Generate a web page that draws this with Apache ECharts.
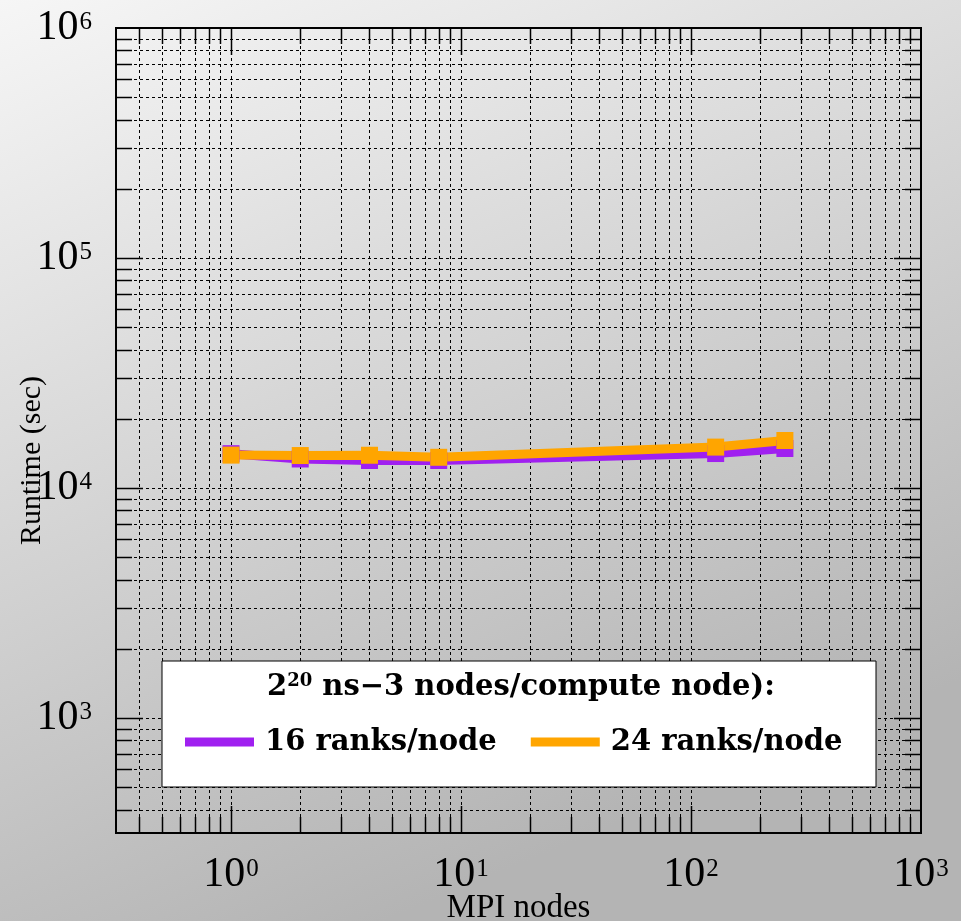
<!DOCTYPE html>
<html>
<head>
<meta charset="utf-8">
<script src="https://cdn.jsdelivr.net/npm/echarts@6/dist/echarts.min.js"></script>
<style>
html,body{margin:0;padding:0;}
#chart{width:961px;height:921px;}
</style>
</head>
<body>
<div id="chart"></div>
<script>
// ---- data ----
const nodes = [1, 2, 4, 8, 128, 256];
const ranks16 = [14100, 13370, 13170, 13170, 14120, 14850];
const ranks24 = [13900, 13840, 13880, 13600, 15060, 16090];
const seriesNames = ['16 ranks/node', '24 ranks/node'];
const legendTitle = ['2', '20', ' ns\u22123 nodes/compute node):'];

// axis range (log)
const X_MIN = Math.pow(10, -0.5), X_MAX = 1000;
const Y_MIN = Math.pow(10, 2.5), Y_MAX = 1000000;

// tick label values
const xLabelValues = [1, 10, 100, 1000];
const yLabelValues = [1000, 10000, 100000, 1000000];

// grid / tick values
const xGridValues = [0.4,0.5,0.6,0.7,0.8,0.9,
  1,2,3,4,5,6,7,8,9,
  10,20,30,40,50,60,70,80,90,
  100,200,300,400,500,600,700,800,900];
const yGridValues = [400,500,600,700,800,900,
  1000,2000,3000,4000,5000,6000,7000,8000,9000,
  10000,20000,30000,40000,50000,60000,70000,80000,90000,
  100000,200000,300000,400000,500000,600000,700000,800000,900000];

function isPow10(v) {
  const e = Math.log10(v);
  return Math.abs(e - Math.round(e)) < 1e-6;
}
function powLabel(v) {
  if (!isPow10(v)) return '';
  return '{b|10}{s|' + Math.round(Math.log10(v)) + '}';
}
const labelRich = {
  b: {fontFamily: 'Liberation Serif', fontSize: 42, color: '#000'},
  s: {fontFamily: 'Liberation Serif', fontSize: 25, color: '#000', padding: [0, 0, 11, 1]}
};

const MAJOR_LEN = 27, MINOR_LEN = 16;
const dotStyle = {stroke: '#000', lineWidth: 1, lineDash: [3, 3]};
const tickStyle = {stroke: '#000', lineWidth: 1.5};

function renderXGrid(params, api) {
  const cs = params.coordSys;
  const v = api.value(0);
  const x = Math.round(api.coord([v, api.value(1)])[0]) + 0.5;
  const L = isPow10(v) ? MAJOR_LEN : MINOR_LEN;
  const top = cs.y, bot = cs.y + cs.height;
  return {type: 'group', children: [
    {type: 'line', shape: {x1: x, y1: top, x2: x, y2: bot}, style: dotStyle},
    {type: 'line', shape: {x1: x, y1: top, x2: x, y2: top + L}, style: tickStyle},
    {type: 'line', shape: {x1: x, y1: bot, x2: x, y2: bot - L}, style: tickStyle}
  ]};
}
function renderYGrid(params, api) {
  const cs = params.coordSys;
  const v = api.value(1);
  const y = Math.round(api.coord([api.value(0), v])[1]) + 0.5;
  const L = isPow10(v) ? MAJOR_LEN : MINOR_LEN;
  const left = cs.x, right = cs.x + cs.width;
  return {type: 'group', children: [
    {type: 'line', shape: {x1: left, y1: y, x2: right, y2: y}, style: dotStyle},
    {type: 'line', shape: {x1: left, y1: y, x2: left + L, y2: y}, style: tickStyle},
    {type: 'line', shape: {x1: right, y1: y, x2: right - L, y2: y}, style: tickStyle}
  ]};
}

const chart = echarts.init(document.getElementById('chart'), null, {renderer: 'canvas'});
const option = {
  animation: false,
  backgroundColor: {
    type: 'linear', x: 0, y: 0, x2: 0.4, y2: 1,
    colorStops: [{offset: 0, color: '#f6f6f6'}, {offset: 1, color: '#b4b4b4'}]
  },
  grid: {
    left: 116, top: 28, right: 40, bottom: 88,
    outerBoundsMode: 'none', containLabel: false,
    show: true, borderColor: '#000', borderWidth: 2, backgroundColor: 'transparent'
  },
  xAxis: {
    type: 'log', logBase: 10, min: X_MIN, max: X_MAX,
    axisLine: {show: false}, axisTick: {show: false}, splitLine: {show: false},
    axisLabel: {formatter: powLabel, rich: labelRich, margin: 21, customValues: xLabelValues,
      showMinLabel: true, showMaxLabel: true},
    name: 'MPI nodes', nameLocation: 'middle', nameGap: 59, nameMoveOverlap: false,
    nameTextStyle: {fontFamily: 'Liberation Serif', fontSize: 33, color: '#000'}
  },
  yAxis: {
    type: 'log', logBase: 10, min: Y_MIN, max: Y_MAX,
    axisLine: {show: false}, axisTick: {show: false}, splitLine: {show: false},
    axisLabel: {formatter: powLabel, rich: labelRich, margin: 24, customValues: yLabelValues,
      showMinLabel: true, showMaxLabel: true},
    name: 'Runtime (sec)', nameLocation: 'middle', nameGap: 69, nameMoveOverlap: false,
    nameTextStyle: {fontFamily: 'Liberation Serif', fontSize: 30, color: '#000', padding: [0, 60, 0, 0]}
  },
  legend: {
    data: seriesNames, z: 60,
    left: 185, top: 727, padding: 0,
    icon: 'rect', itemWidth: 69, itemHeight: 9, itemGap: 34,
    selectedMode: false,
    textStyle: {fontFamily: 'DejaVu Serif', fontWeight: 'bold', fontSize: 29, color: '#000',
      padding: [0, 0, 0, 6], lineHeight: 30}
  },
  graphic: [
    {type: 'rect', z: 2, shape: {x: 162, y: 661, width: 714, height: 126},
      style: {fill: '#fff', stroke: '#000', lineWidth: 1}},
    {type: 'text', z: 3, left: 267, top: 672,
      style: {
        text: '{t|' + legendTitle[0] + '}{s|' + legendTitle[1] + '}{t|' + legendTitle[2] + '}',
        rich: {
          t: {fontFamily: 'DejaVu Serif', fontWeight: 'bold', fontSize: 29, color: '#000'},
          s: {fontFamily: 'DejaVu Serif', fontWeight: 'bold', fontSize: 18, color: '#000', padding: [0, 0, 13, 0]}
        }
      }}
  ],
  series: [
    {type: 'custom', name: 'xgrid', silent: true, z: 1, clip: false,
      renderItem: renderXGrid, data: xGridValues.map(v => [v, Y_MIN])},
    {type: 'custom', name: 'ygrid', silent: true, z: 1, clip: false,
      renderItem: renderYGrid, data: yGridValues.map(v => [X_MIN, v])},
    {type: 'line', name: seriesNames[0], z: 3,
      data: nodes.map((n, i) => [n, ranks16[i]]),
      symbol: 'rect', symbolSize: 17, showSymbol: true,
      lineStyle: {width: 9, color: '#a020f0'}, itemStyle: {color: '#a020f0'}},
    {type: 'line', name: seriesNames[1], z: 3,
      data: nodes.map((n, i) => [n, ranks24[i]]),
      symbol: 'rect', symbolSize: 17, showSymbol: true,
      lineStyle: {width: 9, color: '#ffa500'}, itemStyle: {color: '#ffa500'}}
  ]
};
chart.setOption(option);
</script>
</body>
</html>
